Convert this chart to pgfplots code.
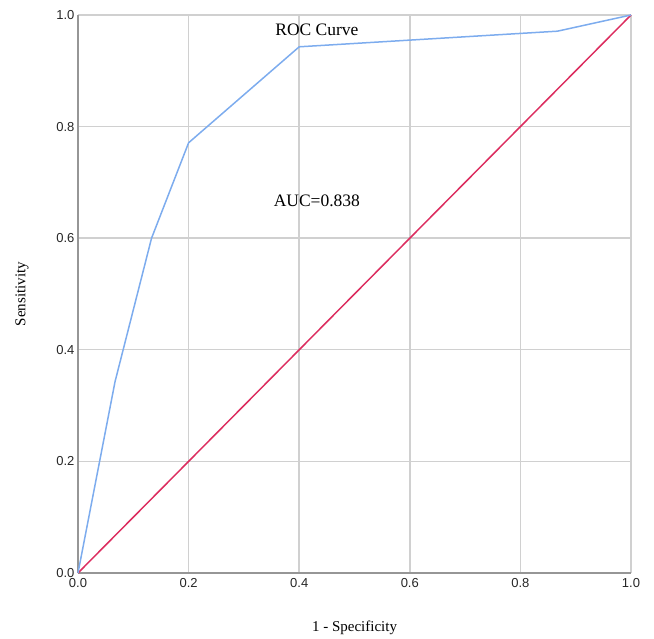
\documentclass[border=0pt]{standalone}
\usepackage{fontspec}
\setmainfont{Liberation Serif}
\setsansfont{Liberation Sans}
\usepackage{pgfplots}
\pgfplotsset{compat=1.18}
\definecolor{roc}{RGB}{125,172,238}
\definecolor{ref}{RGB}{220,45,95}
\definecolor{gridc}{RGB}{208,208,208}
\definecolor{axc}{RGB}{150,150,150}
\begin{document}
\begin{tikzpicture}
\begin{axis}[
  scale only axis,
  width=553pt, height=558pt,
  xmin=0, xmax=1, ymin=0, ymax=1,
  xtick={0,0.2,0.4,0.6,0.8,1.0}, ytick={0,0.2,0.4,0.6,0.8,1.0},
  /pgf/number format/fixed,
  /pgf/number format/fixed zerofill,
  /pgf/number format/precision=1,
  /pgf/number format/assume math mode=true,
  tick label style={font=\sffamily\fontsize{13}{15}\selectfont, text=black!85},
  xticklabel style={yshift=-2pt},
  label style={font=\fontsize{15}{18}\selectfont},
  xlabel={1 - Specificity},
  ylabel={Sensitivity},
  xlabel style={at={(axis description cs:0.5,-0.0986)}, anchor=center},
  ylabel style={at={(axis description cs:-0.1013,0.5)}, anchor=center},
  axis x line*=bottom, axis y line*=left,
  axis line style={axc, line width=1.8pt, -},
  major tick length=0pt,
  grid=major,
  major grid style={gridc, line width=1.4pt},
  clip=false,
]
\addplot[ref, line width=1.5pt] coordinates {(0,0) (1,1)};
\addplot[roc, line width=1.5pt] coordinates {
  (0,0) (0.067,0.343) (0.133,0.600) (0.200,0.771) (0.400,0.943)
  (0.867,0.971) (1,1)
};
\node[font=\fontsize{17.5}{20}\selectfont] at (axis cs:0.432,0.973) {ROC Curve};
\node[font=\fontsize{17.5}{20}\selectfont] at (axis cs:0.432,0.667) {AUC=0.838};
\end{axis}
\path (-78pt,-65pt) rectangle (576pt,573pt);
\end{tikzpicture}
\end{document}
